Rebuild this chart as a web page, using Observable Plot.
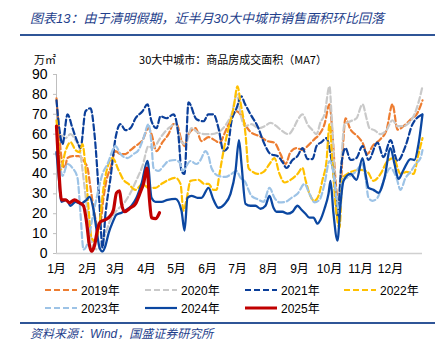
<!DOCTYPE html>
<html><head><meta charset="utf-8">
<script src="https://cdn.jsdelivr.net/npm/d3@7"></script>
<script src="https://cdn.jsdelivr.net/npm/@observablehq/plot@0.6"></script>
<style>
body{margin:0;background:#fff;}
#wrap{position:relative;width:447px;height:344px;overflow:hidden;font-family:"Liberation Sans","Noto Sans CJK SC",sans-serif;color:#000;}
.title{position:absolute;left:30px;top:8px;font-size:13px;font-style:italic;color:#1F3F8C;white-space:nowrap;font-family:"Liberation Sans","Noto Sans CJK SC",sans-serif;}
.hr{position:absolute;left:20px;width:415px;height:2px;background:#2F5597;}
.sub{position:absolute;top:51px;left:0;width:466px;text-align:center;font-size:11px;font-family:"Noto Sans CJK SC",sans-serif;white-space:nowrap;}
.unit{position:absolute;top:51px;left:34px;font-size:11px;font-family:"Noto Sans CJK SC",sans-serif;}
#chart{position:absolute;left:0;top:40px;}
.leg{position:absolute;font-size:12px;white-space:nowrap;display:flex;align-items:center;}
.leg svg{margin-right:3px;}
.foot{position:absolute;left:30px;top:324px;font-size:12px;font-style:italic;color:#1F3F8C;white-space:nowrap;}
</style></head>
<body><div id="wrap">
<div class="title">图表13：由于清明假期，近半月30大中城市销售面积环比回落</div>
<div class="hr" style="top:34px"></div>
<div class="unit">万㎡</div>
<div class="sub">30大中城市：商品房成交面积（MA7）</div>
<div id="chart"></div>
<div id="legend"></div>
<div class="hr" style="top:322px"></div>
<div class="foot">资料来源：Wind，国盛证券研究所</div>
</div>
<script>
// x = day of year (0 = Jan 1), y = 万㎡
const monthStarts = [0, 31, 59, 90, 120, 151, 181, 212, 243, 273, 304, 334];
const monthLabels = ["1月","2月","3月","4月","5月","6月","7月","8月","9月","10月","11月","12月"];
const yTicks = [0,10,20,30,40,50,60,70,80,90];

const s2019 = [[0,78],[2,65],[5,48],[8,43],[11,48],[16,49],[22,49],[28,46],[31,43],[34,33],[38,20],[41,14],[44,16],[47,28],[50,37],[54,43],[59,51.5],[64,50],[69,50],[74,52],[79,54],[86,57],[92,63],[95,60],[100,51.5],[106,56],[112,60],[117,65],[120,65],[125,57],[128,54],[132,60],[139,63],[145,56.5],[152,58.5],[158,57],[163,55.7],[169,61.5],[174,67],[180,71.5],[184,70],[189,64.5],[195,60.7],[203,59],[211,56.5],[218,55.7],[224,50],[229,45],[234,51],[240,53],[246,52],[251,54],[258,57.5],[263,60],[268,65],[273,75],[276,60],[279,37],[283,22],[286,50],[289,68],[294,62.3],[301,59],[306,55.7],[311,50],[316,54],[324,57.5],[330,62],[336,75],[341,62.3],[347,64],[354,67.3],[361,70.7],[366,77]];
const s2020 = [[0,63],[3,61],[9,58],[14,60],[19,57],[23,53],[26,42],[30,25],[34,10],[37,3],[41,2],[45,5],[49,10],[54,17],[60,21.5],[67,25],[74,30.5],[80,37],[86,44],[92,54],[96,53],[105,59],[112,63],[119,65],[125,56],[129,55],[135,63],[141,61],[149,60],[155,60],[162,61],[169,64.5],[175,70],[180.5,80],[184,70],[189,64],[195,65],[202,63],[208,64],[214,65.7],[220,64],[224,62.3],[232,60],[237,63],[241,67],[246,70],[251,65],[256,62],[260,60],[264,66],[268,70],[273,84],[275,70],[279,33],[281,23],[284,40],[288,65],[294,66.5],[300,68],[306,75],[310,68],[313,63],[318,62],[324,60],[330,62],[336,67],[341,64],[347,64],[353,66],[358,70],[362,76],[366,84]];
const s2021 = [[0,77],[3,62],[6,55],[11,70],[16,63],[21,56],[24,53],[29,71.5],[34,73],[38,60],[43,25],[46,3],[49,20],[54,38],[59,58],[64,65],[69,62],[74,63],[79,68],[86,71.5],[91,75],[95,66.5],[100,63],[104,69],[110,68],[117,70],[122,59],[125,41.5],[128,40],[132,76],[140,67.5],[147,66.5],[152,70],[157,70],[162,63],[167,51.5],[171,53],[175,66.5],[180,73],[185,79],[188,75.7],[194,70],[201,64],[208,55],[214,50],[221,49],[226,46],[230,43],[236,47],[241,49],[246,53],[251,47.5],[256,47.5],[260,54],[265,56],[270,58],[274,50],[278,36],[281,18],[285,45],[289,53],[294,47],[300,48],[306,54],[309,51],[312,47],[321,55.7],[327,48.5],[334,57],[341,46.5],[349,54],[356,65],[366,70]];
const s2022 = [[0,67],[2,55],[4,42],[9,51.5],[14,56],[19,52],[23,51],[26,55],[29,43],[32,23],[35,8],[39,6],[43,15],[47,33],[52,45],[56,48],[62,42],[67,37],[72,35],[79,32],[86,35],[92,33],[99,33],[105,35],[112,37],[119,38],[124,35],[127,21.5],[130,27],[134,36.5],[142,37],[148,35],[152,35],[157,32],[160,32],[163,40],[167,51.5],[172,63],[177,73],[181,84],[184,76],[189,60],[192,43],[195,41.5],[201,40],[207,41],[213,45],[218,48],[223,40],[228,35.7],[234,37],[241,40],[246,43],[249,37],[253,30],[258,26.5],[262,29],[266,37],[270,46.5],[273,65],[276,45],[280,20],[283,13],[286,38],[291,40],[297,41.5],[304,42],[311,41],[317,36.5],[324,40],[331,46.5],[337,48],[344,40],[350,41],[357,40],[362,50],[366,58]];
const s2023 = [[0,50],[3,45],[6,39],[11,45],[16,43],[21,38],[24,20],[27,2],[31,5],[36,18],[41,30],[46,40],[51,45],[59,54],[64,50],[71,48],[77,50],[82,52],[87,58],[92,65],[95,55],[97,43],[102,41.5],[107,44],[112,46.5],[119,47],[124,45],[126,41.5],[134,46.5],[140,45],[144,47],[149,51.5],[152,49],[155,43],[162,39],[169,38.5],[175,40],[180,41.5],[184,38],[188,36.5],[195,29],[201,27.3],[207,26],[213,33],[218,28],[223,25.7],[229,26],[235,28],[241,30],[248,35],[253,30],[258,25.7],[263,27],[268,35],[273,46.5],[276,43],[280,28],[283,20],[286,36.5],[292,38.5],[299,41],[306,45],[309,38],[312,28],[316,26.5],[321,28],[327,36.5],[334,43],[340,38],[344,32],[349,38],[354,41],[359,45],[364,48],[366,52]];
const s2024 = [[0,51],[2,40],[5,26],[10,27],[14,24],[19,26],[24,25],[30,27],[33,28.5],[37,22],[40,12],[43,3],[46,1],[49,4],[52,10],[56,15.5],[60,19.5],[65,20.5],[70,22],[75,24],[80,28],[85,35],[91,46.5],[95,28],[99,26],[105,26],[111,27],[119,27.5],[125,21.5],[128,11.5],[131,28],[135,29],[141,28],[145,28],[152,33],[157,27],[162,23],[168,24.8],[174,30],[179,41.5],[182.5,57],[185,45],[189,25],[194,24],[199,24],[204,22.5],[209,24],[213,29],[217,23],[220,21],[226,21],[231,20],[236,21],[241,24],[245,22],[249,20],[253,18],[257,18],[261,15],[264,17],[268,22.5],[272,30],[274,36.5],[277,20],[281,6.5],[284,25],[287,36.5],[294,40],[300,37],[306,48],[309,40],[312,33],[317,32],[322,30.5],[328,38],[334,53],[338,45],[342,37.5],[347,42],[354,47.5],[358,47],[362,55],[366,70]];
const s2025 = [[0,64],[2,45],[5,27],[9,27],[13,25.5],[18,27],[23,25.5],[27,24],[30,16],[33,4],[35,1],[38,4],[41,12],[44,16],[49,17],[54,19],[57,22],[60,30.5],[63,31.5],[65,25],[68,21],[74,23],[79,25],[84,31],[87,35],[90.5,43],[93,27],[95,18],[99,17.5],[103,20.5]];

const seriesNames = ["2019年","2020年","2021年","2022年","2023年","2024年","2025年"];
const seriesData = [s2019, s2020, s2021, s2022, s2023, s2024, s2025];
const seriesColors = ["#ED7D31","#C9C9C9","#0B3F9A","#FFC000","#9DC3E6","#0B47A1","#C00000"];
const seriesDash = ["6,3","6,3","6,3","6,3","6,3",null,null];
const seriesWidth = [2.2,2.2,2.2,2.2,2.2,2.3,3.2];

const lineMarks = seriesData.map((d, i) => Plot.line(d, {
  x: d => d[0], y: d => d[1],
  stroke: seriesColors[i], strokeWidth: seriesWidth[i],
  strokeDasharray: seriesDash[i] || undefined,
  curve: "monotone-x"
}));

const chart = Plot.plot({
  width: 447, height: 240,
  marginLeft: 56, marginRight: 25, marginTop: 34, marginBottom: 27,
  style: {fontFamily: '"Liberation Sans","Noto Sans CJK SC",sans-serif', background: "transparent", color: "#000"},
  x: {domain: [0, 366]},
  y: {domain: [0, 90]},
  marks: [
    Plot.axisY({ticks: yTicks, tickSize: 3, tickPadding: 6, fontSize: 14, stroke: "#bfbfbf", label: null}),
    Plot.axisX({ticks: monthStarts, tickFormat: (d, i) => monthLabels[i], tickSize: 0, tickPadding: 11, fontSize: 12, label: null}),
    Plot.ruleX([0], {stroke: "#bfbfbf"}),
    ...lineMarks,
    Plot.ruleY([0], {stroke: "#d0d0d0", strokeWidth: 1.5})
  ]
});
document.getElementById("chart").appendChild(chart);

// legend
const legend = document.getElementById("legend");
const legX = [45, 145, 245, 344];
seriesNames.forEach((name, i) => {
  const row = Math.floor(i / 4), col = i % 4;
  const div = document.createElement("div");
  div.className = "leg";
  div.style.left = legX[col] + "px";
  div.style.top = (row === 0 ? 281 : 299) + "px";
  div.innerHTML = `<svg width="33" height="16"><line x1="0" x2="32" y1="8" y2="8" stroke="${seriesColors[i]}" stroke-width="${i===6?3:2.2}" ${seriesDash[i] ? `stroke-dasharray="${seriesDash[i]}"` : ""}/></svg><span>${name}</span>`;
  legend.appendChild(div);
});
</script>
</body></html>
